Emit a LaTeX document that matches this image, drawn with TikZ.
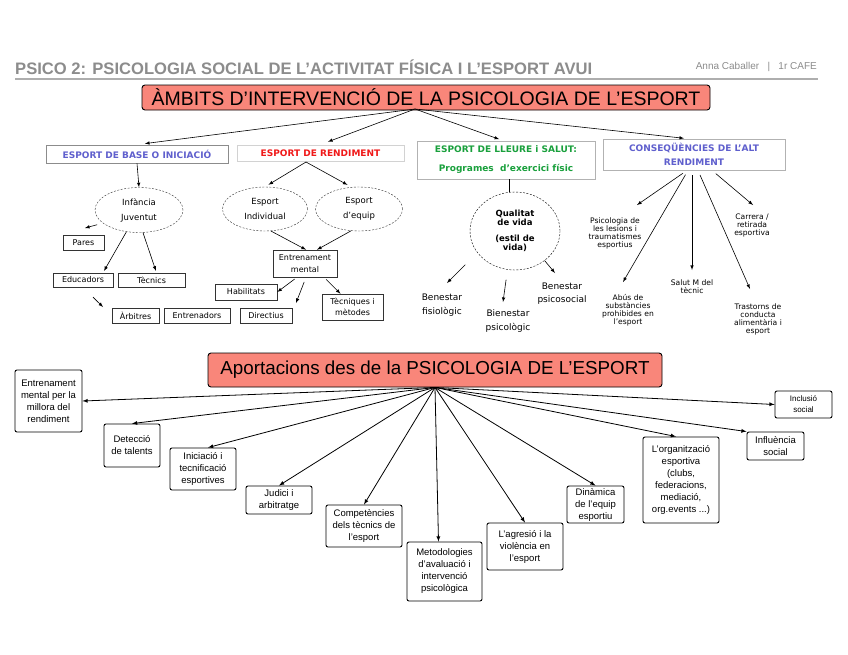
\documentclass[tikz,border=0pt]{standalone}
\usepackage{fontspec}
\setmainfont{Liberation Sans}
\newfontfamily\tah{DejaVu Sans}
\usepackage{xcolor}
\usetikzlibrary{shapes.geometric}
\definecolor{salmo}{RGB}{249,134,122}
\definecolor{grisos}{RGB}{140,140,140}
\definecolor{blauet}{RGB}{95,95,205}
\definecolor{vermell}{RGB}{240,25,25}
\definecolor{verd}{RGB}{25,160,60}

\begin{document}
\begin{tikzpicture}[x=1pt,y=-1pt,>=latex,
  titol/.style={draw,fill=salmo,rounded corners=3pt,line width=0.9pt,inner sep=0,font=\fontsize{19.5}{22}\selectfont},
  ambit/.style={draw=gray!60,line width=0.8pt,inner sep=0,align=center,font=\tah\bfseries\fontsize{9}{14}\selectfont},
  bolla/.style={ellipse,draw=black!80,dash pattern=on 2pt off 1.5pt,inner sep=0,align=center,font=\tah\fontsize{8.5}{15}\selectfont},
  caixa/.style={draw=black!80,line width=0.6pt,inner sep=0,align=center,font=\tah\fontsize{8}{11}\selectfont},
  nota/.style={inner sep=0,align=center,font=\tah\fontsize{7.6}{8}\selectfont},
  benes/.style={inner sep=0,align=center,font=\tah\fontsize{9}{13.5}\selectfont},
  apor/.style={draw,rounded corners=2pt,line width=0.9pt,inner sep=0,align=center,font=\fontsize{9.5}{12}\selectfont},
  fina/.style={->,line width=0.6pt},
  fletxa/.style={->,line width=0.8pt}]
\fill[white] (0,0) rectangle (848,654);
\useasboundingbox (0,0) rectangle (848,654);

\node[anchor=west,inner sep=0,text=grisos,font=\bfseries\fontsize{16.6}{18}\selectfont] (capc) at (15,67) {PSICO 2: PSICOLOGIA SOCIAL DE L’ACTIVITAT FÍSICA I L’ESPORT AVUI};
\node[anchor=east,inner sep=0,text=grisos,font=\fontsize{10}{11}\selectfont] (autor) at (817,67) {Anna Caballer \ \ | \ \ 1r CAFE};
\draw[grisos!70,line width=1.2pt] (15,79) -- (818,79);

\node[titol,minimum width=568,minimum height=25] (amb) at (426,97.5) {ÀMBITS D’INTERVENCIÓ DE LA PSICOLOGIA DE L’ESPORT};
\coordinate (t1s) at (415,109);

\node[ambit,draw=gray!90,text=blauet,minimum width=182,minimum height=18] (base) at (137,154) {ESPORT DE BASE O INICIACIÓ};
\node[ambit,draw=gray!35,text=vermell,minimum width=167,minimum height=16] (rend) at (320.5,153) {ESPORT DE RENDIMENT};
\node[ambit,text=verd,minimum width=178,minimum height=38,font=\tah\bfseries\fontsize{9}{19}\selectfont] (lleure) at (506,160) {ESPORT DE LLEURE i SALUT:\\Programes \ d’exercici físic};
\node[ambit,text=blauet,minimum width=182,minimum height=31] (conseq) at (694,154.5) {CONSEQÜÈNCIES DE L’ALT\\RENDIMENT};

\draw[fina,shorten >=8pt] (t1s) -- (base.north);
\draw[fina,shorten >=8pt] (t1s) -- (rend.north);
\draw[fina,shorten >=4pt] (t1s) -- ([xshift=-3]lleure.north);
\draw[fina,shorten >=3pt] (t1s) -- ([xshift=-7]conseq.north);

\node[bolla,minimum width=88,minimum height=45] (inf) at (139,210) {Infància\\Juventut};
\node[caixa,minimum width=41,minimum height=15] (pares) at (83.5,242.5) {Pares};
\node[caixa,minimum width=60,minimum height=14] (edu) at (83,280) {Educadors};
\node[caixa,minimum width=67,minimum height=14] (tec) at (151.5,280) {Tècnics};
\node[caixa,minimum width=47,minimum height=15] (arb) at (135.5,315.5) {Àrbitres};
\node[caixa,minimum width=66,minimum height=15] (ent) at (197,315.5) {Entrenadors};
\node[caixa,minimum width=52,minimum height=15] (dir) at (266,315.5) {Directius};
\coordinate (p1) at (85,228);
\coordinate (a1) at (103,307);

\draw[fina] (base.south) -- (inf.north);
\draw[fina,shorten <=6pt] (inf.200) -- (p1);
\draw[fina,shorten >=2pt] (inf.240) -- ([xshift=20]edu.north);
\draw[fina,shorten >=2pt] (inf.280) -- ([xshift=5]tec.north);
\draw[fina,shorten <=14pt] (edu.south) -- (a1);

\node[bolla,minimum width=85,minimum height=44] (ind) at (265,209) {Esport\\Individual};
\node[bolla,minimum width=87,minimum height=44] (equ) at (359,209) {Esport\\d’equip};
\node[caixa,minimum width=64,minimum height=27,font=\tah\fontsize{8}{12}\selectfont] (em) at (305,263.5) {Entrenament\\mental};
\node[caixa,minimum width=62,minimum height=16] (hab) at (246,292) {Habilitats};
\node[caixa,minimum width=61,minimum height=26] (tm) at (352.5,307) {Tècniques i\\mètodes};
\coordinate (rs) at (306,162);
\coordinate (d1) at (296,303);

\draw[fina,shorten >=4pt] (rs) -- (ind.north);
\draw[fina,shorten >=4pt] (rs) -- ([xshift=-8]equ.north);
\draw[fina] (ind.285) -- ([xshift=1]em.north);
\draw[fina] (equ.250) -- ([xshift=12]em.north);
\draw[fina,shorten <=3pt] ([xshift=-8]em.south) -- (hab.east);
\draw[fina,shorten <=5pt] ([xshift=1]em.south) -- (d1);
\draw[fina,shorten <=3pt] ([xshift=19]em.south) -- ([xshift=-12]tm.north);

\node[bolla,draw=black,minimum width=90,minimum height=78,font=\tah\bfseries\fontsize{8.5}{9}\selectfont] (qual) at (515,231) {Qualitat\\de vida\\[7pt](estil de\\vida)};
\node[benes] (bf) at (442,305) {Benestar\\fisiològic};
\node[benes] (bp) at (508,321) {Bienestar\\psicològic};
\node[benes] (bs) at (562,293.5) {Benestar\\psicosocial};
\coordinate (q1) at (447,283);
\coordinate (q2) at (503,302);
\coordinate (q3) at (555,273);

\draw[line width=0.6pt] ([xshift=3]lleure.south) -- ([xshift=-6]qual.north);
\draw[fina,shorten <=17pt] (qual.210) -- (q1);
\draw[fina,shorten <=10pt] (qual.259) -- (q2);
\draw[fina] (qual.315) -- (q3);

\node[nota] (ples) at (615,233) {Psicologia de\\les lesions i\\traumatismes\\esportius};
\node[nota] (carr) at (752,225) {Carrera /\\retirada\\esportiva};
\node[nota] (salut) at (692,286.5) {Salut M del\\tècnic};
\node[nota] (abus) at (628,310) {Abús de\\substàncies\\prohibides en\\l’esport};
\node[nota] (tras) at (758,319.5) {Trastorns de\\conducta\\alimentària i\\esport};
\coordinate (c1) at (637,205);
\coordinate (c2) at (623,282);
\coordinate (c3) at (692,270);
\coordinate (c4) at (750,289);
\coordinate (c5) at (753,205);

\draw[fina,shorten <=5pt] ([xshift=-7]conseq.south) -- (c1);
\draw[fina,shorten <=5pt] ([xshift=-6]conseq.south) -- (c2);
\draw[fina,shorten <=5pt] ([xshift=-2]conseq.south) -- (c3);
\draw[fina,shorten <=5pt] ([xshift=4]conseq.south) -- (c4);
\draw[fina,shorten <=5pt] ([xshift=18]conseq.south) -- (c5);

\node[titol,minimum width=454,minimum height=34,font=\fontsize{18.8}{24}\selectfont] (apo) at (435,370) {Aportacions des de la PSICOLOGIA DE L’ESPORT};

\node[apor,minimum width=67,minimum height=62] (entm) at (48.5,401) {Entrenament\\mental per la\\millora del\\rendiment};
\node[apor,minimum width=56,minimum height=43] (detec) at (132,445.5) {Detecció\\de talents};
\node[apor,minimum width=66,minimum height=42] (inic) at (203,469) {Iniciació i\\tecnificació\\esportives};
\node[apor,minimum width=66,minimum height=28] (judi) at (279,500) {Judici i\\arbitratge};
\node[apor,minimum width=76,minimum height=42] (compe) at (364,526) {Competències\\dels tècnics de\\l'esport};
\node[apor,minimum width=75,minimum height=59] (meto) at (444.5,571.5) {Metodologies\\d'avaluació i\\intervenció\\psicològica};
\node[apor,minimum width=76,minimum height=47] (agre) at (525,546.5) {L'agresió i la\\violència en\\l'esport};
\node[apor,minimum width=57,minimum height=37] (dina) at (595.5,504.5) {Dinàmica\\de l'equip\\esportiu};
\node[apor,minimum width=76,minimum height=86] (orga) at (681,480) {L'organització\\esportiva\\(clubs,\\federacions,\\mediació,\\org.events ...)};
\node[apor,minimum width=57,minimum height=28] (influ) at (775.5,446) {Influència\\social};
\node[apor,minimum width=57,minimum height=27,font=\fontsize{8}{11}\selectfont] (inclu) at (803.5,404.5) {Inclusió\\social};

\draw[fletxa] (apo.south) -- (entm.east);
\draw[fletxa] (apo.south) -- (detec.north);
\draw[fletxa] (apo.south) -- ([xshift=5]inic.north);
\draw[fletxa] (apo.south) -- (judi.north);
\draw[fletxa] (apo.south) -- (compe.north);
\draw[fletxa] (apo.south) -- ([xshift=-6]meto.north);
\draw[fletxa] (apo.south) -- (agre.north);
\draw[fletxa] (apo.south) -- (dina.north);
\draw[fletxa] (apo.south) -- ([xshift=-5]orga.north);
\draw[fletxa] (apo.south) -- (influ.north west);
\draw[fletxa] (apo.south) -- (inclu.west);
\end{tikzpicture}
\end{document}
